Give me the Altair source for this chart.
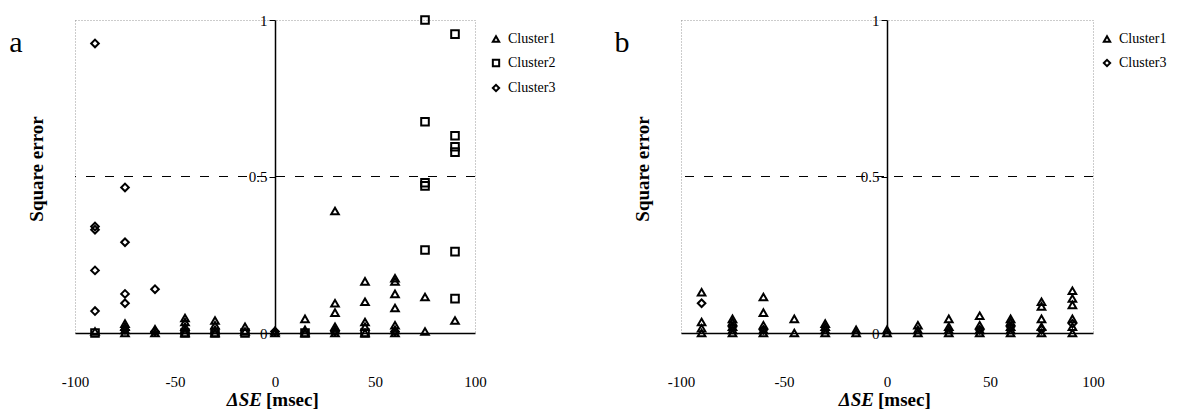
import altair as alt
import pandas as pd

FONT = "Liberation Serif"

# ---- Panel a data ----
a_c1_x = [-90, -75, -75, -75, -75, -60, -60, -45, -45, -45, -45, -45, -30, -30, -30, -30, -15, -15,
          0, 0, 15, 15, 15, 30, 30, 30, 30, 30, 30, 45, 45, 45, 45, 45,
          60, 60, 60, 60, 60, 60, 60, 75, 75, 90]
a_c1_y = [0.005, 0.0, 0.01, 0.02, 0.03, 0.0, 0.012, 0.0, 0.01, 0.02, 0.035, 0.048, 0.0, 0.01, 0.025, 0.04, 0.005, 0.02,
          0.0, 0.006, 0.0, 0.01, 0.045, 0.0, 0.01, 0.02, 0.065, 0.095, 0.39, 0.0, 0.02, 0.035, 0.1, 0.165,
          0.0, 0.01, 0.025, 0.08, 0.125, 0.165, 0.175, 0.005, 0.115, 0.04]
a_c2_x = [-90, -45, -30, -15, 15, 45, 75, 75, 75, 75, 75, 90, 90, 90, 90, 90, 90]
a_c2_y = [0.0, 0.0, 0.0, 0.0, 0.0, 0.0, 1.0, 0.675, 0.48, 0.47, 0.265, 0.955, 0.63, 0.595, 0.578, 0.26, 0.11]
a_c3_x = [-90, -90, -90, -90, -90, -75, -75, -75, -75, -60, -75, -60, 0, 30, 60]
a_c3_y = [0.925, 0.34, 0.33, 0.2, 0.07, 0.465, 0.29, 0.125, 0.095, 0.14, 0.01, 0.005, 0.005, 0.005, 0.005]

# ---- Panel b data ----
b_c1_x = [-90, -90, -90, -90, -75, -75, -75, -75, -75, -60, -60, -60, -60, -60, -45, -45,
          -30, -30, -30, -30, -15, -15, 0, 0, 15, 15, 15, 30, 30, 30, 30, 45, 45, 45, 45,
          60, 60, 60, 60, 60, 75, 75, 75, 75, 75, 90, 90, 90, 90, 90, 90]
b_c1_y = [0.0, 0.015, 0.035, 0.13, 0.0, 0.01, 0.02, 0.035, 0.045, 0.0, 0.01, 0.025, 0.065, 0.115, 0.0, 0.045,
          0.0, 0.01, 0.02, 0.03, 0.0, 0.01, 0.0, 0.01, 0.0, 0.01, 0.025, 0.0, 0.01, 0.02, 0.045, 0.0, 0.01, 0.025, 0.055,
          0.0, 0.01, 0.02, 0.035, 0.045, 0.0, 0.02, 0.045, 0.085, 0.1, 0.0, 0.02, 0.045, 0.09, 0.11, 0.135]
b_c3_x = [-90, -75, -60, 45, 60, 75, 90]
b_c3_y = [0.095, 0.02, 0.01, 0.01, 0.02, 0.01, 0.03]

y_ticks = [0, 0.5, 1]
x_ticks = [-100, -50, 0, 50, 100]
ref_line = [0.5]


def frame(pairs):
    rows = []
    for name, xs, ys in pairs:
        for xv, yv in zip(xs, ys):
            rows.append({"cluster": name, "x": xv, "y": yv})
    return pd.DataFrame(rows)


def panel(letter, df, domain, shapes, width, legend_x):
    height = 313
    xs = alt.Scale(domain=[-100, 100], nice=False, zero=False)
    ys = alt.Scale(domain=[0, 1], nice=False)
    pts = alt.Chart(df).mark_point(filled=False, color="black", strokeWidth=2, size=58, opacity=1).encode(
        x=alt.X("x:Q", scale=xs, axis=alt.Axis(values=x_ticks, title=None, ticks=False, labelPadding=41,
                                              labelFlush=False, labelExpr="'' + datum.value",
                                              labelFont=FONT, labelFontSize=15, labelColor="black",
                                              domainColor="black", domainWidth=1.5, grid=False)),
        y=alt.Y("y:Q", scale=ys, axis=alt.Axis(values=y_ticks, format=".1~f", title=None, offset=-width / 2,
                                              labelFont=FONT, labelFontSize=15, labelColor="black",
                                              tickColor="black", tickSize=6, domainColor="black",
                                              domainWidth=1.5, grid=False)),
        shape=alt.Shape("cluster:N", scale=alt.Scale(domain=domain, range=shapes),
                        legend=alt.Legend(orient="none", legendX=legend_x, legendY=12, title=None,
                                          labelFont=FONT, labelFontSize=14, labelColor="black",
                                          symbolSize=40, symbolStrokeWidth=2, symbolStrokeColor="black",
                                          rowPadding=9, labelOffset=5)),
    )
    rule = alt.Chart(pd.DataFrame({"y": ref_line})).mark_rule(
        color="black", strokeWidth=1, strokeDash=[9, 10]).encode(y=alt.Y("y:Q", scale=ys))
    lab = alt.Chart(pd.DataFrame({"t": [letter]})).mark_text(
        font=FONT, fontSize=30, color="black", align="center", baseline="middle").encode(
        x=alt.value(-59), y=alt.value(23), text="t:N")
    ytitle = alt.Chart(pd.DataFrame({"t": ["Square error"]})).mark_text(
        font=FONT, fontSize=19, fontWeight="bold", color="black", angle=270,
        align="center", baseline="middle").encode(x=alt.value(-38), y=alt.value(149), text="t:N")
    xt1 = alt.Chart(pd.DataFrame({"t": ["ΔSE"]})).mark_text(
        font=FONT, fontSize=19, fontWeight="bold", fontStyle="italic", color="black",
        align="right", baseline="middle").encode(x=alt.value(width / 2 - 13), y=alt.value(380), text="t:N")
    xt2 = alt.Chart(pd.DataFrame({"t": ["[msec]"]})).mark_text(
        font=FONT, fontSize=19, fontWeight="bold", color="black",
        align="left", baseline="middle").encode(x=alt.value(width / 2 - 9), y=alt.value(380), text="t:N")
    return alt.layer(rule, pts, lab, ytitle, xt1, xt2).properties(width=width, height=height)


df_a = frame([("Cluster1", a_c1_x, a_c1_y), ("Cluster2", a_c2_x, a_c2_y), ("Cluster3", a_c3_x, a_c3_y)])
df_b = frame([("Cluster1", b_c1_x, b_c1_y), ("Cluster3", b_c3_x, b_c3_y)])

pa = panel("a", df_a, ["Cluster1", "Cluster2", "Cluster3"], ["triangle-up", "square", "diamond"], 400, 414)
pb = panel("b", df_b, ["Cluster1", "Cluster3"], ["triangle-up", "diamond"], 412, 419)

chart = alt.hconcat(pa, pb, spacing=57).resolve_scale(shape="independent", x="independent",
                                                         y="independent").resolve_legend(
    shape="independent").configure_view(stroke="#999999", strokeDash=[1, 2], strokeWidth=1).properties(
    padding={"left": 0, "top": 3, "right": 0, "bottom": 0}, background="white")

chart.save("out.html", embed_options={"renderer": "svg", "actions": False})
